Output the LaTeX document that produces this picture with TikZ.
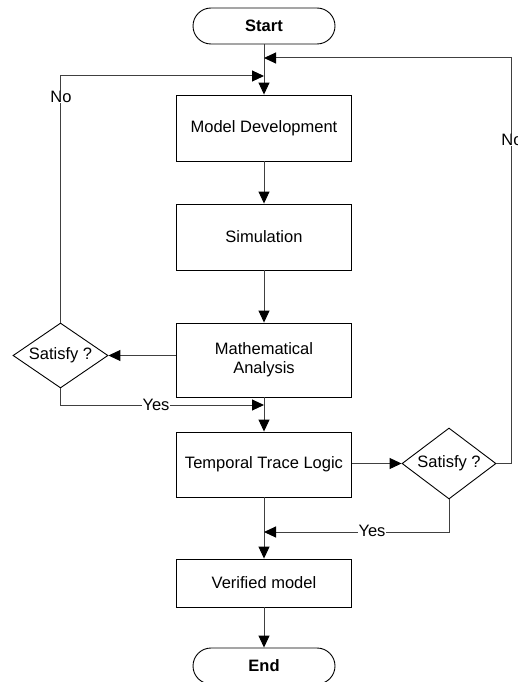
\documentclass[tikz,border=0pt]{standalone}
\usepackage{fontspec}
\setmainfont{Liberation Sans}
\usetikzlibrary{arrows.meta,shapes.geometric}
\begin{document}
\begin{tikzpicture}[x=1pt,y=-1pt,
  every node/.style={font=\fontsize{16.5}{19}\selectfont},
  box/.style={draw=black,line width=0.9pt,fill=white,minimum width=175pt,align=center,inner sep=2pt},
  term/.style={draw=black,line width=0.9pt,rounded corners=18pt,minimum width=142pt,minimum height=36pt,inner sep=0pt,font=\fontsize{16.5}{19}\selectfont\bfseries},
  dec/.style={draw=black,line width=0.9pt,diamond,aspect=1.46,inner sep=0pt},
  conn/.style={draw=black!75,line width=1pt,-{Triangle[length=12pt,width=11pt,color=black]}},
  lbl/.style={fill=white,inner sep=0.5pt}]
\useasboundingbox (0,0) rectangle (518,682);
\node[term] (start) at (264,26) {Start};
\node[box,minimum height=66pt] (md) at (264,128) {Model Development};
\node[box,minimum height=66pt] (sim) at (264,237) {Simulation};
\node[box,minimum height=74pt] (ma) at (264,360) {Mathematical\\Analysis};
\node[box,minimum height=65pt] (ttl) at (264,464.5) {Temporal Trace Logic};
\node[box,minimum height=48pt] (ver) at (264,583) {Verified model};
\node[term] (end) at (264,666) {End};
\node[dec,minimum width=95pt,minimum height=65pt] (ld) at (60.5,355.5) {Satisfy ?};
\node[dec,minimum width=94pt,minimum height=71pt] (rd) at (449,463.5) {Satisfy ?};
\coordinate (j1) at (264,76);
\coordinate (j2) at (264,58);
\coordinate (j3) at (264,405);
\coordinate (j4) at (264,532);
\coordinate (rc) at (511,463.5);
\draw[conn] (start) -- (md);
\draw[conn] (md) -- (sim);
\draw[conn] (sim) -- (ma);
\draw[conn] (ma) -- (ttl);
\draw[conn] (ttl) -- (ver);
\draw[conn] (ver) -- (end);
\draw[conn] (ma.west |- ld.east) -- (ld.east);
\draw[conn] (ttl.east |- rd.west) -- (rd.west);
\draw[conn] (ld.north) |- (j1);
\draw[conn] (rd.east) -- (rc) |- (j2);
\draw[conn] (ld.south) |- (j3);
\draw[conn] (rd.south) |- (j4);
\node[lbl] (no1) at (61,97) {No};
\node[lbl] (no2) at (512,140) {No};
\node[lbl] (yes1) at (156,405) {Yes};
\node[lbl] (yes2) at (372,531) {Yes};
\end{tikzpicture}
\end{document}
